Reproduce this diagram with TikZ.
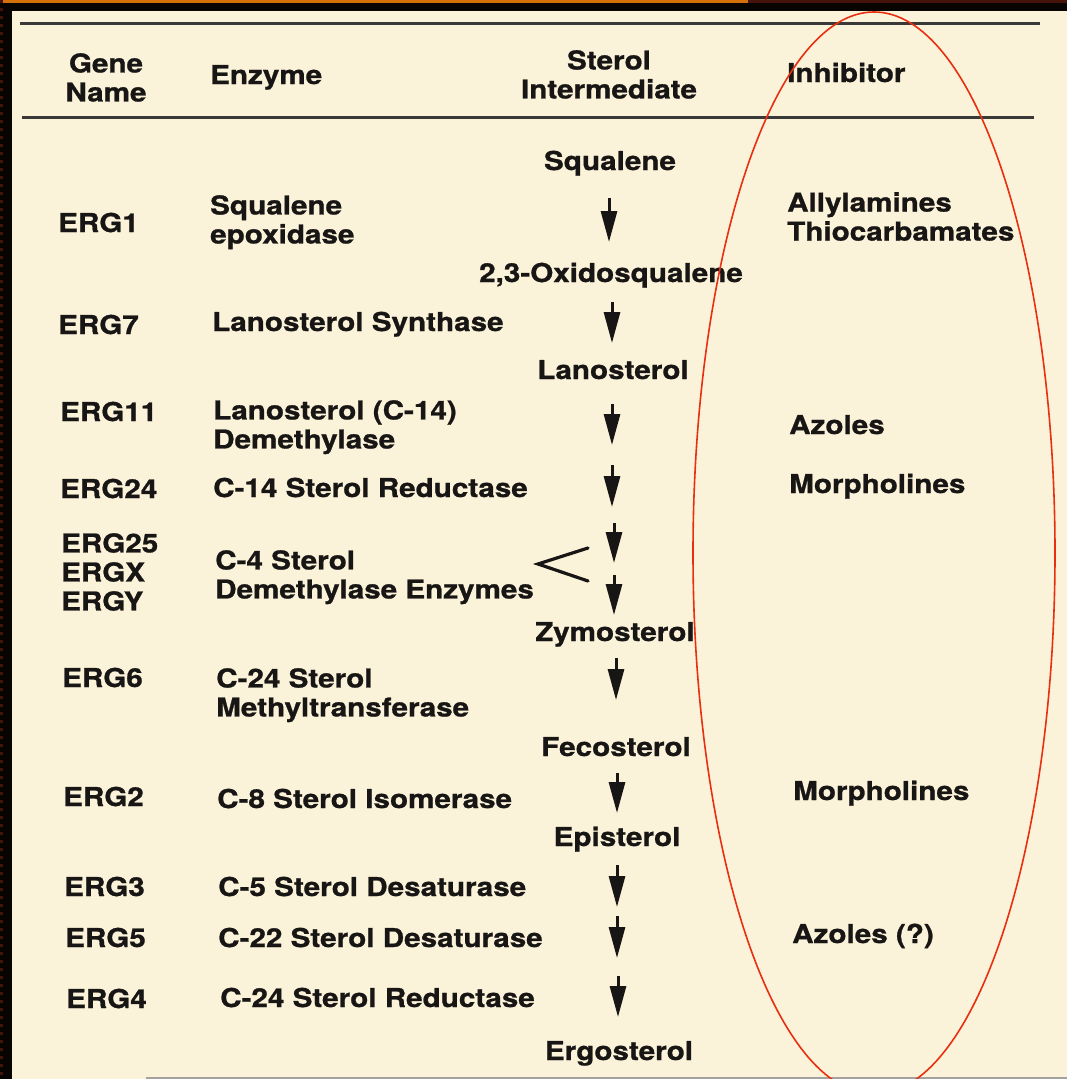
\documentclass[tikz,border=0pt]{standalone}
\usepackage{fontspec}
\setmainfont{TeX Gyre Heros}[FakeStretch=1.14,BoldFeatures={FakeBold=0.9}]
\usetikzlibrary{arrows.meta}
\definecolor{paper}{RGB}{251,242,218}
\definecolor{ink}{RGB}{24,22,20}
\definecolor{ringred}{RGB}{232,48,16}
\definecolor{bar}{RGB}{214,112,10}
\definecolor{frame}{RGB}{8,4,2}
\definecolor{rust}{RGB}{70,20,10}
\begin{document}
\begin{tikzpicture}[x=1pt,y=-1pt,
  lbl/.style={inner sep=0pt, font=\bfseries\fontsize{26}{29}\selectfont, text=ink},
  txt/.style={lbl, anchor=base west},
  mid/.style={lbl, anchor=base},
  two/.style={lbl, anchor=north west, align=left},
  twoc/.style={lbl, anchor=north, align=center},
  rule/.style={ink!85, line width=3pt},
  stepto/.style={ink, line width=3pt, -{Triangle[length=31pt,width=16pt]}},
  fork/.style={ink, line width=3.2pt, line cap=round},
]
\useasboundingbox (0,0) rectangle (1067,1079);
% page frame
\fill[frame] (0,0) rectangle (1067,1079);
\fill[paper] (12,11) rectangle (1067,1079);
\fill[bar] (0,0) rectangle (748,3);
\fill[rust] (748,0) rectangle (1067,3);
\draw[rust, line width=3pt, dash pattern=on 3pt off 5pt] (1.5,0) -- (1.5,1079);

% table rules
\draw[rule] (20,23) -- (1040,23);
\draw[rule] (22,117) -- (1034,117);
\draw[ink!40, line width=1.5pt] (146,1078) -- (1067,1078);

% column heads
\node[twoc] (hgene) at (106,53) {Gene\\Name};
\node[txt] (henz) at (210,84) {Enzyme};
\node[twoc] (hster) at (609,50) {Sterol\\Intermediate};
\node[txt] (hinh) at (787,82) {Inhibitor};

\begin{scope}[yshift=-2pt]
% sterol intermediates
\node[mid] (squalene) at (610,168) {Squalene};
\node[mid] (oxido) at (611,280) {2,3-Oxidosqualene};
\node[mid] (lano) at (613,377) {Lanosterol};
\node[mid] (zymo) at (615,639) {Zymosterol};
\node[mid] (feco) at (616,754) {Fecosterol};
\node[mid] (epi) at (617,844) {Episterol};
\node[mid] (ergo) at (619,1058) {Ergosterol};

% genes
\node[txt] (g1) at (58,230) {ERG1};
\node[txt] (g7) at (58,332) {ERG7};
\node[txt] (g11) at (60,419) {ERG11};
\node[txt] (g24) at (60,496) {ERG24};
\node[two] (g25) at (61,531) {ERG25\\ERGX\\ERGY};
\node[txt] (g6) at (62,685) {ERG6};
\node[txt] (g2) at (63,804) {ERG2};
\node[txt] (g3) at (64,894) {ERG3};
\node[txt] (g5) at (65,945) {ERG5};
\node[txt] (g4) at (66,1006) {ERG4};

% enzymes
\node[two] (e1) at (210,193) {Squalene\\epoxidase};
\node[txt] (e7) at (212,329) {Lanosterol Synthase};
\node[two] (e11) at (213,398) {Lanosterol (C-14)\\Demethylase};
\node[txt] (e24) at (213,495) {C-14 Sterol Reductase};
\node[two] (e25) at (215,548) {C-4 Sterol\\Demethylase Enzymes};
\node[two] (e6) at (216,666) {C-24 Sterol\\Methyltransferase};
\node[txt] (e2) at (217,806) {C-8 Sterol Isomerase};
\node[txt] (e3) at (218,894) {C-5 Sterol Desaturase};
\node[txt] (e5) at (218,945) {C-22 Sterol Desaturase};
\node[txt] (e4) at (220,1005) {C-24 Sterol Reductase};

% inhibitors
\node[two] (i1) at (787,190) {Allylamines\\Thiocarbamates};
\node[txt] (i11) at (789,432) {Azoles};
\node[txt] (i24) at (789,491) {Morpholines};
\node[txt] (i2) at (793,798) {Morpholines};
\node[txt] (i5) at (792,941) {Azoles (?)};
\end{scope}

% reaction steps
\coordinate (s1a) at (609,198);  \coordinate (s1b) at (609,242);
\coordinate (s2a) at (612,302);  \coordinate (s2b) at (612,343);
\coordinate (s3a) at (612,404);  \coordinate (s3b) at (612,445);
\coordinate (s4a) at (612,465);  \coordinate (s4b) at (612,507);
\coordinate (s5a) at (614,523);  \coordinate (s5b) at (614,563);
\coordinate (s6a) at (614,575);  \coordinate (s6b) at (614,615);
\coordinate (s7a) at (616,658);  \coordinate (s7b) at (616,700);
\coordinate (s8a) at (617,773);  \coordinate (s8b) at (617,813);
\coordinate (s9a) at (617,865);  \coordinate (s9b) at (617,907);
\coordinate (s10a) at (617,916); \coordinate (s10b) at (617,958);
\coordinate (s11a) at (618,976); \coordinate (s11b) at (618,1017);
\foreach \k in {1,...,11} \draw[stepto] (s\k a) -- (s\k b);

% fork pointing at the C-4 demethylation steps
\coordinate (fk0) at (538,564);
\coordinate (fk1) at (588,548);
\coordinate (fk2) at (588,581);
\draw[fork] (fk1) -- (fk0) -- (fk2);

% highlighted inhibitor column
\draw[ringred, line width=1.6pt] (874,553) ellipse [x radius=181, y radius=541];
\end{tikzpicture}
\end{document}
